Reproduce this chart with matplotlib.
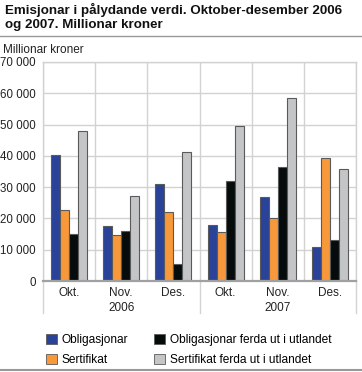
import matplotlib.pyplot as plt
import numpy as np
from matplotlib.lines import Line2D
from matplotlib.patches import Patch

plt.rcParams["font.family"] = ["Liberation Sans", "DejaVu Sans"]

months = ["Okt.", "Nov.", "Des.", "Okt.", "Nov.", "Des."]
years = ["2006", "2007"]
series_names = [
    "Obligasjonar",
    "Sertifikat",
    "Obligasjonar ferda ut i utlandet",
    "Sertifikat ferda ut i utlandet",
]
obligasjonar = [40200, 17700, 31100, 17800, 26800, 11000]
sertifikat = [22600, 14600, 22200, 15600, 20200, 39200]
oblig_utland = [14900, 16100, 5400, 32100, 36300, 13200]
sert_utland = [47900, 27100, 41100, 49600, 58400, 35700]
y_ticks = [0, 10000, 20000, 30000, 40000, 50000, 60000, 70000]

colors = ["#2a4399", "#f7993a", "#060b0b", "#c4c5c7"]
edge = "#5a5a5a"
grid_col = "#d2d2d2"
text_col = "#222222"

W, H = 362, 372
fig = plt.figure(figsize=(W / 100, H / 100), dpi=100)

# axes placed in pixel coordinates
x0, x1, y_top, y_bot = 43, 356, 62, 281
ax = fig.add_axes([x0 / W, (H - y_bot) / H, (x1 - x0) / W, (y_bot - y_top) / H])

x = np.arange(len(months))
bw = 0.172
data = [obligasjonar, sertifikat, oblig_utland, sert_utland]
for i, (vals, col) in enumerate(zip(data, colors)):
    ax.bar(x + (i - 1.5) * bw, vals, bw, color=col, edgecolor=edge,
           linewidth=0.8, zorder=3)

ax.set_xlim(-0.5, len(months) - 0.5)
ax.set_ylim(0, 70000)
ax.set_yticks(y_ticks)
ax.set_yticklabels([f"{v:,}".replace(",", " ") for v in y_ticks], fontsize=8.3)
ax.set_xticks(x)
ax.set_xticklabels(months, fontsize=8.5)
ax.set_xticks(np.arange(-0.5, len(months), 1.0), minor=True)
ax.tick_params(axis="both", which="both", length=0, colors=text_col)
ax.tick_params(axis="x", pad=4)
ax.tick_params(axis="y", pad=5)

ax.grid(axis="y", color=grid_col, linewidth=1.0, zorder=0)
ax.grid(axis="x", which="minor", color=grid_col, linewidth=1.0, zorder=0)
for s in ["top", "right", "left"]:
    ax.spines[s].set_color(grid_col)
    ax.spines[s].set_linewidth(1.0)
ax.spines["bottom"].set_color("#a0a0a0")
ax.spines["bottom"].set_linewidth(1.6)
ax.spines["bottom"].set_zorder(4)

# year group separators and labels below the axis
for xs in [-0.5, 2.5, 5.5]:
    ax.add_line(Line2D([xs, xs], [0, -0.145], transform=ax.get_xaxis_transform(),
                       color=grid_col, linewidth=1.0, clip_on=False))
for j, yr in enumerate(years):
    ax.text(1 + 3 * j, -0.122, yr, transform=ax.get_xaxis_transform(),
            ha="center", va="center", fontsize=8.5, color=text_col)

# title and unit label
fig.text(5 / W, 1 - 10 / H, "Emisjonar i pålydande verdi. Oktober-desember 2006",
         ha="left", va="center", fontsize=9.6, fontweight="bold", color="#111111")
fig.text(5 / W, 1 - 25 / H, "og 2007. Millionar kroner",
         ha="left", va="center", fontsize=9.6, fontweight="bold", color="#111111")
fig.add_artist(Line2D([0, 1], [1 - 36 / H, 1 - 36 / H], color="#999999", linewidth=1.0))
fig.add_artist(Line2D([0, 1], [1 - 370 / H, 1 - 370 / H], color="#999999", linewidth=1.5))
fig.text(3 / W, 1 - 50 / H, "Millionar kroner", ha="left", va="center", fontsize=8.5,
         color=text_col)

# legend
handles = [Patch(facecolor=c, edgecolor=edge, linewidth=0.6) for c in colors]
fig.legend(handles, series_names,
           ncol=2, loc="upper left", bbox_to_anchor=(41 / W, 1 - 329 / H),
           frameon=False, fontsize=8.6, handlelength=0.95, handleheight=1.0,
           handletextpad=0.35, columnspacing=2.2, labelspacing=0.62, borderaxespad=0)

fig.savefig("out.png", dpi=100)
